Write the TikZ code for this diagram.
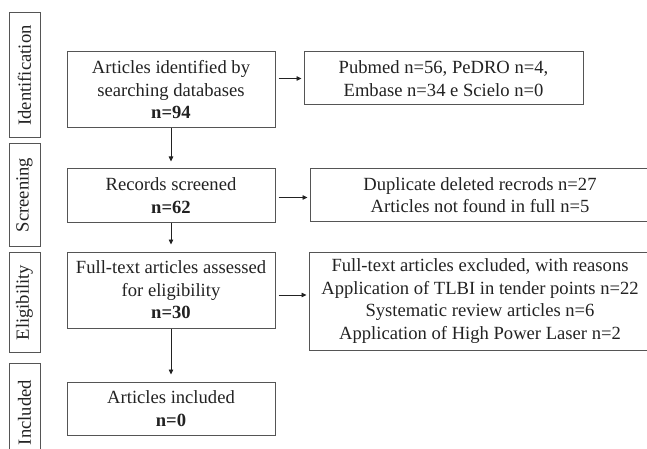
\documentclass[tikz,border=0pt]{standalone}
\usepackage{fontspec}
\setmainfont{Liberation Serif}
\usetikzlibrary{arrows.meta}
\definecolor{linegray}{HTML}{555555}
\definecolor{textgray}{HTML}{222222}
\begin{document}
\begin{tikzpicture}[x=1pt,y=-1pt,
  box/.style={draw=linegray, line width=1pt, inner sep=0pt, align=center,
    text=textgray, font=\fontsize{18.6}{22.5}\selectfont, anchor=center},
  side/.style={box, rotate=90},
  arr/.style={draw=textgray, line width=0.8pt, -{Triangle[length=5pt,width=4.5pt]}}
]
\path[use as bounding box, clip] (0,0) rectangle (647,449);

% stage labels on the left
\node[side, minimum width=125, minimum height=31] (sid) at (24.5,75.5) {Identification};
\node[side, minimum width=102, minimum height=31] (ssc) at (24.5,195) {Screening};
\node[side, minimum width=100, minimum height=31] (sel) at (24.5,302.5) {Eligibility};
\node[side, minimum width=99,  minimum height=31] (sin) at (24.5,412.5) {Included};

% main flow
\node[box, minimum width=208, minimum height=76] (b1) at (171,90)
  {Articles identified by\\searching databases\\\textbf{n=94}};
\node[box, minimum width=208, minimum height=53] (b2) at (171,195.5)
  {Records screened\\\textbf{n=62}};
\node[box, minimum width=208, minimum height=76] (b3) at (171,290)
  {Full-text articles assessed\\for eligibility\\\textbf{n=30}};
\node[box, minimum width=208, minimum height=53] (b4) at (171,408.5)
  {Articles included\\\textbf{n=0}};

% side boxes
\node[box, minimum width=279, minimum height=53] (r1) at (443.5,78.5)
  {Pubmed n=56, PeDRO n=4,\\Embase n=34 e Scielo n=0};
\node[box, minimum width=340, minimum height=52] (r2) at (480,195)
  {Duplicate deleted recrods n=27\\Articles not found in full n=5};
\node[box, minimum width=342, minimum height=98] (r3) at (480,301)
  {Full-text articles excluded, with reasons\\Application of TLBI in tender points n=22\\Systematic review articles n=6\\Application of High Power Laser n=2};

% connectors
\draw[arr, shorten >=7pt] (b1.south) -- (b2.north);
\draw[arr, shorten >=7pt] (b2.south) -- (b3.north);
\draw[arr, shorten >=7pt] (b3.south) -- (b4.north);
\draw[arr, shorten <=3pt, shorten >=2pt] (b1.east |- r1.west) -- (r1.west);
\draw[arr, shorten <=3pt, shorten >=2pt] ([yshift=-2pt]b2.east) -- ([yshift=-2pt]b2.east -| r2.west);
\draw[arr, shorten <=3pt, shorten >=2pt] ([yshift=-5pt]b3.east) -- ([yshift=-5pt]b3.east -| r3.west);
\end{tikzpicture}
\end{document}
